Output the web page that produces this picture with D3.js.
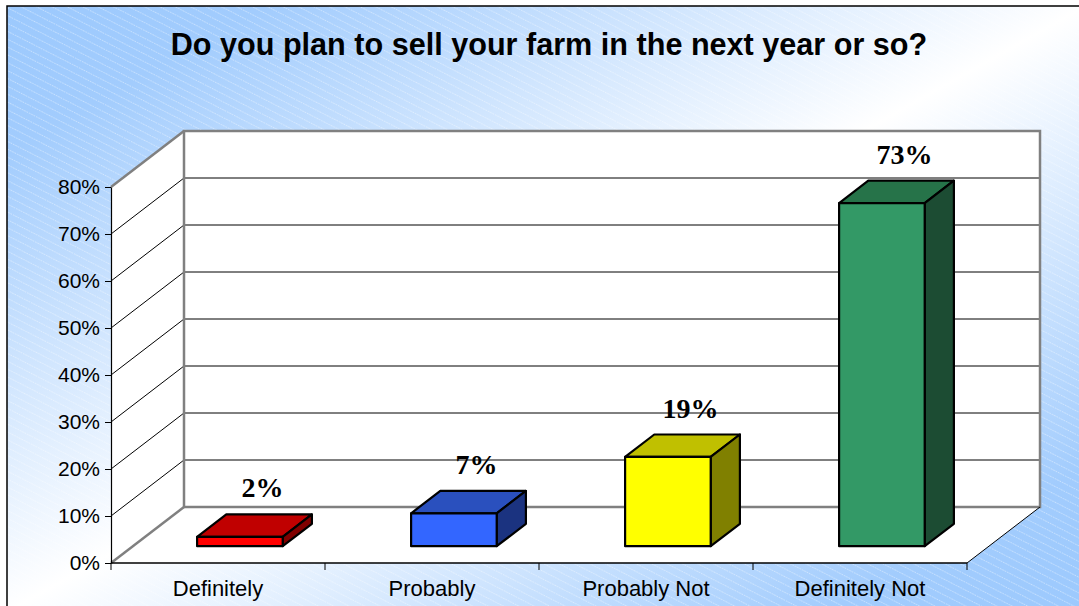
<!DOCTYPE html>
<html>
<head>
<meta charset="utf-8">
<script src="https://cdn.jsdelivr.net/npm/d3@7"></script>
<style>
  html, body { margin: 0; padding: 0; background: #fff; }
  svg { display: block; }
</style>
</head>
<body>
<script>
// Survey answers and their shares
const categories = ["Definitely", "Probably", "Probably Not", "Definitely Not"];
const values = [0.02, 0.07, 0.19, 0.73];
const yTickValues = [0, 0.1, 0.2, 0.3, 0.4, 0.5, 0.6, 0.7, 0.8];
const valueLabels = ["2%", "7%", "19%", "73%"];
const titleText = "Do you plan to sell your farm in the next year or so?";

// Face colours for each column: front, top, side
const palette = [
  { front: "#FF0000", top: "#C00000", side: "#800000" },
  { front: "#3366FF", top: "#2A50BE", side: "#1B3380" },
  { front: "#FFFF00", top: "#C0C000", side: "#808000" },
  { front: "#339966", top: "#267349", side: "#1C4C33" }
];

const W = 1079, H = 606;
const sans = "'Liberation Sans', Arial, sans-serif";
const serif = "'Liberation Serif', 'Times New Roman', serif";

const svg = d3.select("body").append("svg")
  .attr("width", W).attr("height", H);

const defs = svg.append("defs");
const grad = defs.append("linearGradient").attr("id", "bgGrad")
  .attr("x1", 0).attr("y1", 0).attr("x2", 1).attr("y2", 1);
grad.append("stop").attr("offset", 0).attr("stop-color", "#9CC9FD");
grad.append("stop").attr("offset", 0.12).attr("stop-color", "#A2CCFD");
grad.append("stop").attr("offset", 0.5).attr("stop-color", "#FFFFFF");
grad.append("stop").attr("offset", 0.88).attr("stop-color", "#A2CCFD");
grad.append("stop").attr("offset", 1).attr("stop-color", "#9CC9FD");

const hatch = defs.append("pattern").attr("id", "hatch")
  .attr("patternUnits", "userSpaceOnUse")
  .attr("width", 8).attr("height", 7)
  .attr("patternTransform", "rotate(27)");
hatch.append("line")
  .attr("x1", 0).attr("y1", 3.5).attr("x2", 8).attr("y2", 3.5)
  .attr("stroke", "#ffffff").attr("stroke-opacity", 0.4)
  .attr("stroke-width", 1).attr("stroke-dasharray", "1.5 1");

// Chart area background with frame
svg.append("rect").attr("x", 7).attr("y", 6).attr("width", W).attr("height", H)
  .attr("fill", "url(#bgGrad)");
svg.append("rect").attr("x", 7).attr("y", 6).attr("width", W).attr("height", H)
  .attr("fill", "url(#hatch)")
  .attr("stroke", "#000").attr("stroke-width", 1.5);

// Title
svg.append("text")
  .attr("x", 549).attr("y", 55)
  .attr("text-anchor", "middle")
  .attr("font-family", sans).attr("font-weight", "bold").attr("font-size", 30.6)
  .attr("fill", "#000")
  .text(titleText);

// Scales (front plane) and depth vector
const x0 = 111, x1 = 967;
const y = d3.scaleLinear().domain([0, 0.8]).range([563, 187]);
const xBand = d3.scaleBand().domain(categories).range([x0, x1])
  .paddingInner(0.6).paddingOuter(0.3);
const xCat = d3.scaleBand().domain(categories).range([x0, x1]).padding(0);
const depth = { x: 73, y: -56 };
const yMax = 0.8;

const walls = svg.append("g");
const pts = a => a.map(p => p.join(",")).join(" ");

// Side wall
walls.append("polygon")
  .attr("points", pts([[x0, y(0)], [x0, y(yMax)], [x0 + depth.x, y(yMax) + depth.y], [x0 + depth.x, y(0) + depth.y]]))
  .attr("fill", "#fff");
// Floor
walls.append("polygon")
  .attr("points", pts([[x0, y(0)], [x1, y(0)], [x1 + depth.x, y(0) + depth.y], [x0 + depth.x, y(0) + depth.y]]))
  .attr("fill", "#fff");
// Back wall
walls.append("rect")
  .attr("x", x0 + depth.x).attr("y", y(yMax) + depth.y)
  .attr("width", x1 - x0).attr("height", y(0) - y(yMax))
  .attr("fill", "#fff");

// Gridlines on back and side walls
const inner = yTickValues.filter(t => t > 0 && t < yMax);
walls.selectAll(".gb").data(inner).join("line")
  .attr("x1", x0 + depth.x).attr("x2", x1 + depth.x)
  .attr("y1", d => y(d) + depth.y).attr("y2", d => y(d) + depth.y)
  .attr("stroke", "#000").attr("stroke-width", 1);
walls.selectAll(".gs").data(inner).join("line")
  .attr("x1", x0).attr("x2", x0 + depth.x)
  .attr("y1", d => y(d)).attr("y2", d => y(d) + depth.y)
  .attr("stroke", "#000").attr("stroke-width", 1);

// Wall edges
walls.append("rect")
  .attr("x", x0 + depth.x).attr("y", y(yMax) + depth.y)
  .attr("width", x1 - x0).attr("height", y(0) - y(yMax))
  .attr("fill", "none").attr("stroke", "#808080").attr("stroke-width", 2.5);
walls.append("line")
  .attr("x1", x0).attr("y1", y(yMax)).attr("x2", x0 + depth.x).attr("y2", y(yMax) + depth.y)
  .attr("stroke", "#808080").attr("stroke-width", 2.5);
walls.append("line")
  .attr("x1", x0).attr("y1", y(0)).attr("x2", x0 + depth.x).attr("y2", y(0) + depth.y)
  .attr("stroke", "#808080").attr("stroke-width", 2.5);
walls.append("line")
  .attr("x1", x1).attr("y1", y(0)).attr("x2", x1 + depth.x).attr("y2", y(0) + depth.y)
  .attr("stroke", "#000").attr("stroke-width", 1);

// 3D columns
const front = { x: depth.x * 0.3, y: depth.y * 0.3 };
const thick = { x: depth.x * 0.4, y: depth.y * 0.4 };
const bars = svg.append("g")
  .attr("stroke", "#000").attr("stroke-width", 2.2).attr("stroke-linejoin", "round");

categories.forEach((c, i) => {
  const v = values[i];
  const xa = xBand(c) + front.x, xb = xa + xBand.bandwidth();
  const yt = y(v) + front.y, yb = y(0) + front.y;
  const col = palette[i];
  bars.append("polygon")
    .attr("points", pts([[xa, yt], [xb, yt], [xb + thick.x, yt + thick.y], [xa + thick.x, yt + thick.y]]))
    .attr("fill", col.top);
  bars.append("polygon")
    .attr("points", pts([[xb, yt], [xb + thick.x, yt + thick.y], [xb + thick.x, yb + thick.y], [xb, yb]]))
    .attr("fill", col.side);
  bars.append("rect")
    .attr("x", xa).attr("y", yt).attr("width", xb - xa).attr("height", yb - yt)
    .attr("fill", col.front);
});

// Value labels above each column
svg.append("g").selectAll("text").data(categories).join("text")
  .attr("x", (c) => xCat(c) + xCat.bandwidth() / 2 + depth.x * 0.5 + 8)
  .attr("y", (c, i) => y(values[i]) + front.y + thick.y - 17)
  .attr("text-anchor", "middle")
  .attr("font-family", serif).attr("font-weight", "bold").attr("font-size", 28)
  .attr("fill", "#000")
  .text((c, i) => valueLabels[i]);

// Y axis
const yAxis = svg.append("g").attr("transform", `translate(${x0},0)`)
  .call(d3.axisLeft(y).tickValues(yTickValues).tickFormat(d3.format(".0%"))
    .tickSize(6).tickSizeOuter(0).tickPadding(5));
yAxis.select(".domain").attr("stroke", "#000").attr("stroke-width", 1.2);
yAxis.selectAll(".tick line").attr("stroke", "#000");
yAxis.selectAll("text")
  .attr("font-family", sans).attr("font-size", 21).attr("fill", "#000");

// X axis: baseline, category boundary ticks, labels
svg.append("line")
  .attr("x1", x0).attr("x2", x1).attr("y1", y(0)).attr("y2", y(0))
  .attr("stroke", "#000").attr("stroke-width", 1.5);
const bounds = d3.range(categories.length + 1).map(k => x0 + k * xCat.step());
svg.append("g").selectAll("line").data(bounds).join("line")
  .attr("x1", d => d).attr("x2", d => d)
  .attr("y1", y(0)).attr("y2", y(0) + 7)
  .attr("stroke", "#000").attr("stroke-width", 1);
const xAxis = svg.append("g").attr("transform", `translate(0,${y(0)})`)
  .call(d3.axisBottom(xCat).tickSize(0).tickPadding(17));
xAxis.select(".domain").remove();
xAxis.selectAll("text")
  .attr("font-family", sans).attr("font-size", 22).attr("fill", "#000");
</script>
</body>
</html>
